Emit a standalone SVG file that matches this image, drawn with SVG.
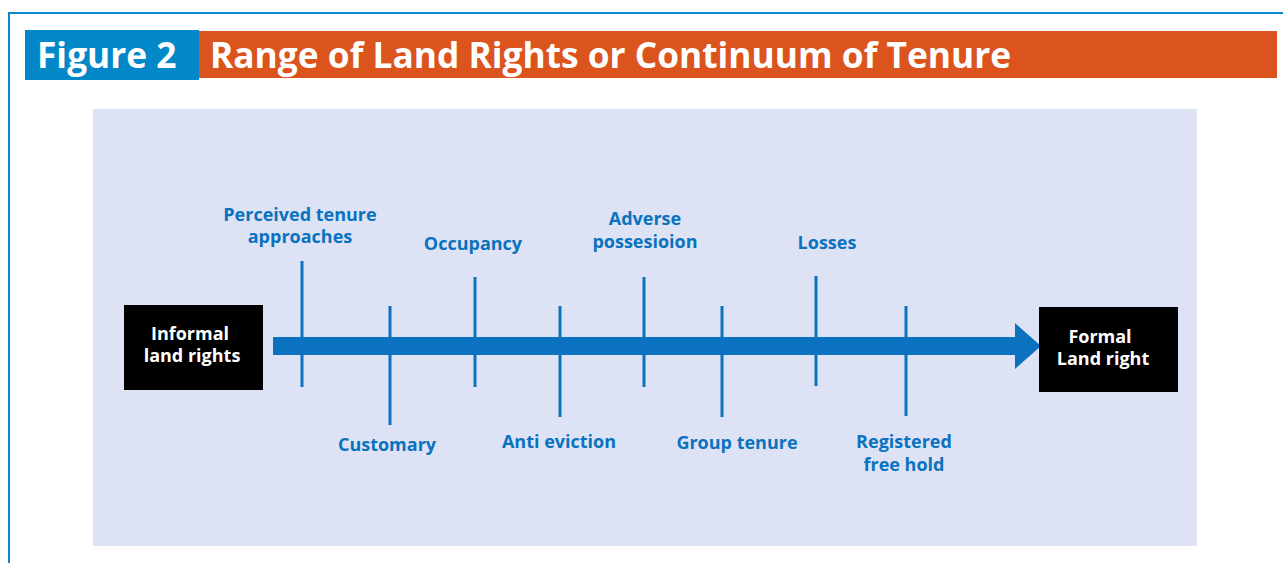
<svg xmlns="http://www.w3.org/2000/svg" width="1283" height="563" viewBox="0 0 1283 563">
<style>
.lbl{font-family:"Open Sans","Noto Sans",sans-serif;font-weight:700;font-size:18px;fill:#0a72bf;text-anchor:middle}
.box{fill:#000}
.btxt{font-family:"Open Sans","Noto Sans",sans-serif;font-weight:700;font-size:18px;fill:#fff;text-anchor:middle}
.tick{stroke:#0a72bf;stroke-width:3}
.ttl{font-family:"Open Sans","Noto Sans",sans-serif;font-weight:700;font-size:35.3px;fill:#fff}
</style>
<rect width="1283" height="563" fill="#fff"/>
<path d="M9 563 V13 H1283" fill="none" stroke="#0a88c8" stroke-width="2"/>
<g id="title">
<rect x="25" y="30" width="174" height="50" fill="#0288c8"/>
<rect x="199" y="31" width="1078" height="47" fill="#db541e"/>
<text class="ttl" x="37" y="68">Figure 2</text>
<text class="ttl" x="210" y="68">Range of Land Rights or Continuum of Tenure</text>
</g>
<rect id="panel" x="93" y="109" width="1104" height="437" fill="#dde3f4"/>
<g id="connectors">
<rect x="273" y="337" width="744" height="18" fill="#0a72bf"/>
<polygon points="1015,323 1041,346 1015,369" fill="#0a72bf"/>
<line class="tick" x1="302" y1="261" x2="302" y2="387"/>
<line class="tick" x1="390" y1="306" x2="390" y2="425"/>
<line class="tick" x1="475" y1="277" x2="475" y2="387"/>
<line class="tick" x1="560" y1="306" x2="560" y2="417"/>
<line class="tick" x1="644" y1="277" x2="644" y2="387"/>
<line class="tick" x1="722" y1="306" x2="722" y2="417"/>
<line class="tick" x1="816" y1="276" x2="816" y2="386"/>
<line class="tick" x1="906" y1="306" x2="906" y2="416"/>
</g>
<g id="informal">
<rect class="box" x="124" y="305" width="139" height="85"/>
<text class="btxt" x="190" y="340">Informal</text>
<text class="btxt" x="192" y="362">land rights</text>
</g>
<g id="formal">
<rect class="box" x="1039" y="307" width="139" height="85"/>
<text class="btxt" x="1100" y="343">Formal</text>
<text class="btxt" x="1103" y="365">Land right</text>
</g>
<g id="perceived"><text class="lbl" x="300" y="221">Perceived tenure</text><text class="lbl" x="300" y="243">approaches</text></g>
<g id="customary"><text class="lbl" x="387" y="451">Customary</text></g>
<g id="occupancy"><text class="lbl" x="473" y="250">Occupancy</text></g>
<g id="antieviction"><text class="lbl" x="559" y="448">Anti eviction</text></g>
<g id="adverse"><text class="lbl" x="645" y="225">Adverse</text><text class="lbl" x="645" y="248">possesioion</text></g>
<g id="grouptenure"><text class="lbl" x="737" y="449">Group tenure</text></g>
<g id="losses"><text class="lbl" x="827" y="249">Losses</text></g>
<g id="registered"><text class="lbl" x="904" y="448">Registered</text><text class="lbl" x="904" y="471">free hold</text></g>
</svg>
